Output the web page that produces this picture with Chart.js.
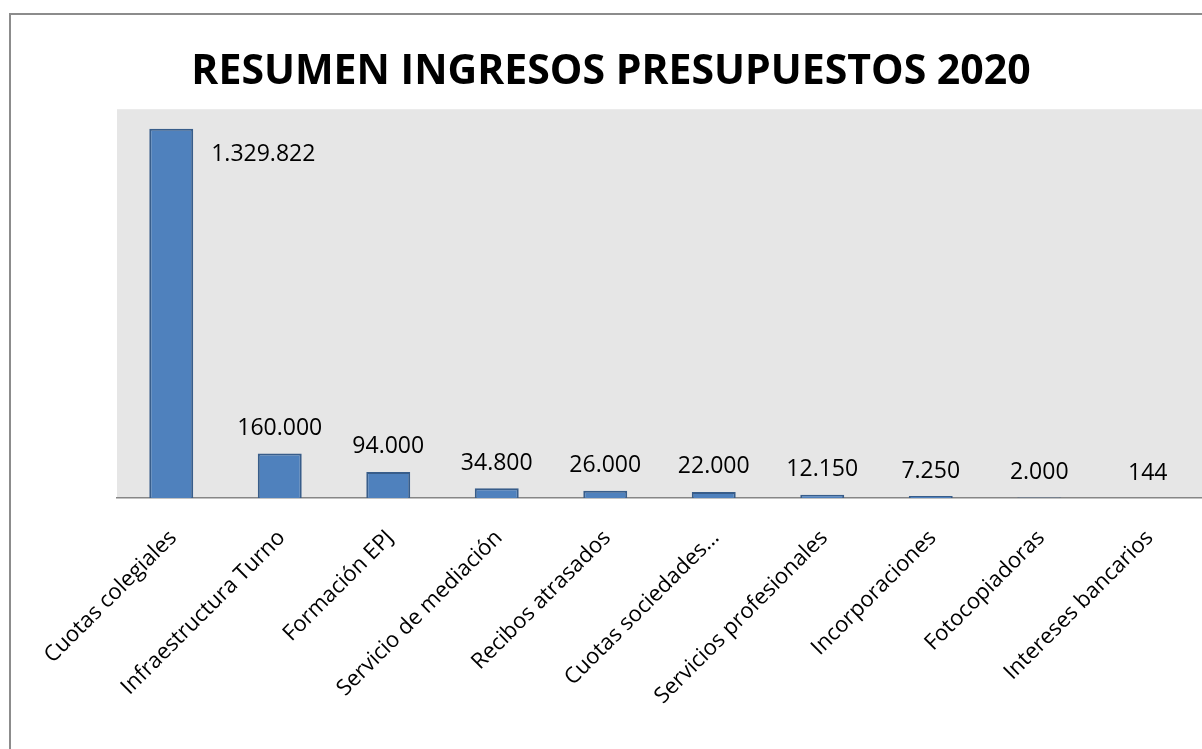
<!DOCTYPE html>
<html>
<head>
<meta charset="utf-8">
<script src="https://cdn.jsdelivr.net/npm/chart.js@4"></script>
<style>
html,body{margin:0;padding:0;background:#fff;}
#wrap{position:relative;width:1202px;height:749px;overflow:hidden;}
#frame{position:absolute;left:9px;top:13px;width:1300px;height:900px;border-left:2px solid #8c8c8c;border-top:2px solid #8c8c8c;box-sizing:border-box;}
canvas{position:absolute;left:0;top:0;}
</style>
</head>
<body>
<div id="wrap">
<div id="frame"></div>
<canvas id="c" width="1202" height="749"></canvas>
</div>
<script>
const categories = ["Cuotas colegiales","Infraestructura Turno","Formación EPJ","Servicio de mediación","Recibos atrasados","Cuotas sociedades…","Servicios profesionales","Incorporaciones","Fotocopiadoras","Intereses bancarios"];
const ingresos = [1329822,160000,94000,34800,26000,22000,12150,7250,2000,144];
const titleText = "RESUMEN INGRESOS PRESUPUESTOS 2020";
const yMax = 1400000;

const FONT = "'Open Sans', 'Noto Sans', sans-serif";

function fmt(v){ return String(v).replace(/\B(?=(\d{3})+(?!\d))/g, "."); }

const plotBg = {
  id:'plotBg',
  beforeDraw(chart){
    const {ctx, chartArea:a} = chart;
    ctx.save();
    ctx.fillStyle = '#e6e6e6';
    ctx.fillRect(a.left, a.top, a.right-a.left, a.bottom-a.top);
    ctx.restore();
  }
};
const valueLabels = {
  id:'valueLabels',
  afterDatasetsDraw(chart){
    const {ctx} = chart;
    const meta = chart.getDatasetMeta(0);
    ctx.save();
    ctx.font = "23px " + FONT;
    ctx.fillStyle = '#000';
    ctx.textBaseline = 'middle';
    meta.data.forEach((bar, i) => {
      const txt = fmt(chart.data.datasets[0].data[i]);
      if (i === 0) {
        ctx.textAlign = 'left';
        ctx.fillText(txt, bar.x + bar.width/2 + 18, bar.y + 26);
      } else {
        ctx.textAlign = 'center';
        ctx.fillText(txt, bar.x, bar.y - 25);
      }
    });
    ctx.restore();
  }
};

new Chart(document.getElementById('c'), {
  type:'bar',
  data:{
    labels: categories,
    datasets:[{
      data: ingresos,
      backgroundColor:'#4f81bd',
      borderColor:'#385d8a',
      borderWidth:2,
      barPercentage:0.405,
      categoryPercentage:1.0
    }]
  },
  options:{
    responsive:false,
    animation:false,
    layout:{padding:{left:20,right:0,top:0,bottom:0}},
    plugins:{
      legend:{display:false},
      tooltip:{enabled:false},
      title:{
        display:true,
        text:titleText,
        color:'#000',
        font:{family:FONT, size:41, weight:'bold'},
        padding:{top:48,bottom:12}
      }
    },
    scales:{
      x:{
        grid:{display:false, drawTicks:false},
        border:{display:true, color:'#868686', width:1.5},
        ticks:{
          color:'#000',
          font:{family:FONT, size:22},
          maxRotation:45, minRotation:45,
          autoSkip:false,
          padding:27,
          labelOffset:2
        },
        afterFit(s){ s.height = 251; }
      },
      y:{
        display:true,
        min:0, max:yMax,
        grid:{display:false, drawTicks:false},
        border:{display:false},
        ticks:{display:false},
        afterFit(s){ s.width = 97; }
      }
    }
  },
  plugins:[plotBg, valueLabels]
});
</script>
</body>
</html>
